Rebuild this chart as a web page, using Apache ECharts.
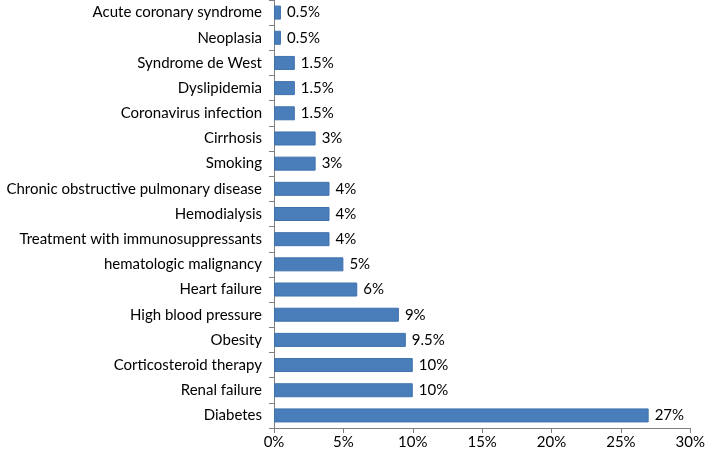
<!DOCTYPE html>
<html><head><meta charset="utf-8">
<script src="https://cdn.jsdelivr.net/npm/echarts@6/dist/echarts.min.js"></script>
<style>html,body{margin:0;padding:0;background:#fff}#c{width:708px;height:453px}</style>
</head><body><div id="c"></div>
<script>
const categories = ["Diabetes","Renal failure","Corticosteroid therapy","Obesity","High blood pressure","Heart failure","hematologic malignancy","Treatment with immunosuppressants","Hemodialysis","Chronic obstructive pulmonary disease","Smoking","Cirrhosis","Coronavirus infection","Dyslipidemia","Syndrome de West","Neoplasia","Acute coronary syndrome"];
const values = [27,10,10,9.5,9,6,5,4,4,4,3,3,1.5,1.5,1.5,0.5,0.5];
const xTicks = [0,5,10,15,20,25,30];

const chart = echarts.init(document.getElementById('c'), null, {renderer:'canvas'});
const font = 'Lato, "Open Sans", sans-serif';
chart.setOption({
  animation:false,
  textStyle:{fontFamily:font},
  grid:{left:274,right:14,top:0,bottom:25,containLabel:false},
  xAxis:{type:'value',min:xTicks[0],max:xTicks[xTicks.length-1],interval:5,
    axisLine:{show:true,lineStyle:{color:'#7f7f7f'}},
    axisTick:{show:true,length:5,lineStyle:{color:'#7f7f7f'}},
    splitLine:{show:false},
    axisLabel:{formatter:'{value}%',color:'#000',fontSize:15,fontFamily:font,margin:7}},
  yAxis:{type:'category',data:categories,
    axisLine:{show:true,lineStyle:{color:'#7f7f7f'}},
    axisTick:{show:true,length:5,lineStyle:{color:'#7f7f7f'}},
    axisLabel:{color:'#000',fontSize:15,fontFamily:font,margin:12}},
  series:[{type:'bar',data:values,barWidth:14,
    itemStyle:{color:'#4a7ebb',borderColor:'#3f72ad',borderWidth:1},
    label:{show:true,position:'right',distance:6,formatter:'{c}%',color:'#000',fontSize:15,fontFamily:font}}]
});
</script></body></html>
